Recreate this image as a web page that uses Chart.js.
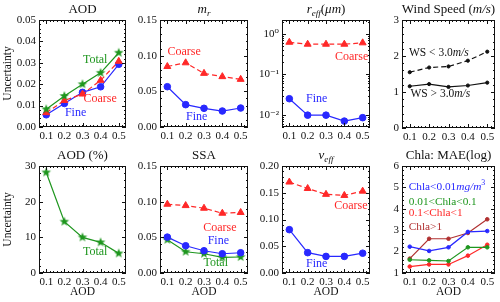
<!DOCTYPE html>
<html lang="en">
<head>
<meta charset="UTF-8">
<title>Uncertainty vs AOD</title>
<script src="https://cdn.jsdelivr.net/npm/chart.js"></script>
<style>
  html, body { margin: 0; padding: 0; background: #fff; }
  #wrap { position: relative; width: 500px; height: 302px; }
  #wrap canvas { position: absolute; left: 0; top: 0; }
</style>
</head>
<body>
<div id="wrap"></div>
<script>
// AOD bins (x axis of every panel)
const aodBins = [0.1, 0.2, 0.3, 0.4, 0.5];

// AOD uncertainty
const aodTotal  = [0.0083, 0.0145, 0.0200, 0.0253, 0.0347];
const aodCoarse = [0.0067, 0.0124, 0.0154, 0.0218, 0.0307];
const aodFine   = [0.0057, 0.0110, 0.0162, 0.0188, 0.0293];

// m_r
const mrCoarse = [0.0848, 0.0900, 0.0752, 0.0706, 0.0668];
const mrFine   = [0.0565, 0.0313, 0.0262, 0.0224, 0.0266];

// r_eff (log axis)
const reffCoarse = [0.62, 0.555, 0.555, 0.555, 0.60];
const reffFine   = [0.025, 0.0098, 0.0098, 0.0070, 0.0085];

// wind speed
const wsLow  = [1.55, 1.68, 1.71, 1.87, 2.12];
const wsHigh = [1.16, 1.22, 1.14, 1.18, 1.26];

// AOD (%)
const aodPctTotal = [28.2, 14.4, 10.0, 8.6, 5.5];

// SSA
const ssaCoarse = [0.0964, 0.0945, 0.0908, 0.0838, 0.0848];
const ssaFine   = [0.0503, 0.0382, 0.0312, 0.0270, 0.0284];
const ssaTotal  = [0.0466, 0.0298, 0.0270, 0.0219, 0.0224];

// v_eff
const veffCoarse = [0.170, 0.158, 0.147, 0.145, 0.153];
const veffFine   = [0.081, 0.038, 0.031, 0.031, 0.037];

// Chla: MAE(log)
const chlaLow   = [2.23, 2.03, 2.20, 2.92, 2.96];
const chlaMid   = [1.62, 1.59, 1.56, 2.20, 2.20];
const chlaHigh  = [1.30, 1.40, 1.40, 1.81, 2.32];
const chlaVHigh = [1.67, 2.60, 2.60, 2.87, 3.51];

// tick values
const xTicks     = [0.1, 0.2, 0.3, 0.4, 0.5];
const aodYTicks  = [0, 0.01, 0.02, 0.03, 0.04, 0.05];
const mrYTicks   = [0, 0.05, 0.10, 0.15];
const reffYTicks = [0.01, 0.1, 1];
const reffLabels = ['10\u207B\u00B2', '10\u207B\u00B9', '10\u2070'];
const wsYTicks   = [0, 1, 2, 3];
const pctYTicks  = [0, 10, 20, 30];
const veffYTicks = [0, 0.05, 0.10, 0.15, 0.20];
const chlaYTicks = [1, 2, 3, 4, 5, 6];

const BLUE = '#2828ff', RED = '#ff2828', GREEN = '#1e961e', DARKRED = '#b03030', INK = '#111';
const SERIF = "'Liberation Serif', 'DejaVu Serif', serif";

// filled five point star used as marker
function starImg(color, r) {
  const c = document.createElement('canvas');
  const s = Math.ceil(r * 2 + 2);
  c.width = c.height = s;
  const g = c.getContext('2d');
  g.beginPath();
  for (let i = 0; i < 10; i++) {
    const rad = i % 2 ? r * 0.42 : r;
    const a = -Math.PI / 2 + i * Math.PI / 5;
    g.lineTo(s / 2 + rad * Math.cos(a), s / 2 + rad * Math.sin(a));
  }
  g.closePath();
  g.fillStyle = color;
  g.fill();
  return c;
}

function series(values, color, marker, dashed, size) {
  return {
    data: values.map((v, i) => ({ x: aodBins[i], y: v })),
    borderColor: color,
    backgroundColor: color,
    borderWidth: 1.2,
    borderDash: dashed ? [5, 3] : [],
    pointStyle: marker,
    pointRadius: size,
    pointBorderWidth: 1,
    pointBorderColor: color,
    pointBackgroundColor: color,
    tension: 0
  };
}

// text with italic / sub / sup pieces
function fontFor(st, size) {
  const small = st === 'is' || st === 'ip' || st === 'p';
  const it = st === 'i' || st === 'is' || st === 'ip';
  return (it ? 'italic ' : '') + (small ? size * 0.7 : size) + 'px ' + SERIF;
}
function drawRich(ctx, segs, x, y, align, size, color) {
  let w = 0;
  segs.forEach(([t, st]) => { ctx.font = fontFor(st, size); w += ctx.measureText(t).width; });
  let cx = align === 'left' ? x : x - w / 2;
  ctx.fillStyle = color;
  ctx.textBaseline = 'middle';
  ctx.textAlign = 'left';
  segs.forEach(([t, st]) => {
    ctx.font = fontFor(st, size);
    let dy = 0;
    if (st === 'is') dy = size * 0.3;
    if (st === 'ip' || st === 'p') dy = -size * 0.35;
    ctx.fillText(t, cx, y + dy);
    cx += ctx.measureText(t).width;
  });
}

function minorVals(scale, major, log, n) {
  const out = [];
  if (log) {
    for (let k = -3; k <= 1; k++) for (let m = 2; m <= 9; m++) out.push(m * Math.pow(10, k));
  } else {
    const step = (major[1] - major[0]) / n;
    for (let v = major[0] - 20 * step; v <= scale.max + 1e-9; v += step) out.push(v);
  }
  return out.filter(v => v >= scale.min && v <= scale.max);
}

const framePlugin = {
  id: 'frame',
  afterDraw(chart, args, o) {
    const { ctx, chartArea: a, scales: { x, y } } = chart;
    ctx.save();
    ctx.strokeStyle = INK;
    ctx.lineWidth = 1;
    ctx.strokeRect(a.left + 0.5, a.top + 0.5, a.right - a.left - 1, a.bottom - a.top - 1);
    const tick = (vals, len, horiz) => {
      ctx.beginPath();
      vals.forEach(v => {
        if (horiz) {
          const px = Math.round(x.getPixelForValue(v)) + 0.5;
          ctx.moveTo(px, a.bottom); ctx.lineTo(px, a.bottom - len);
          ctx.moveTo(px, a.top); ctx.lineTo(px, a.top + len);
        } else {
          const py = Math.round(y.getPixelForValue(v)) + 0.5;
          ctx.moveTo(a.left, py); ctx.lineTo(a.left + len, py);
          ctx.moveTo(a.right, py); ctx.lineTo(a.right - len, py);
        }
      });
      ctx.stroke();
    };
    tick(xTicks, 4, true);
    tick(minorVals(x, xTicks, false, 5), 2, true);
    tick(o.yTicks, 4, false);
    tick(minorVals(y, o.yTicks, o.log, 5), 2, false);

    drawRich(ctx, o.title, (a.left + a.right) / 2, a.top - 10, 'center', 13, INK);
    (o.notes || []).forEach(n => {
      drawRich(ctx, n.segs, x.getPixelForValue(n.x), y.getPixelForValue(n.y), n.align || 'center', n.size || 12, n.color);
    });
    ctx.restore();
  }
};

function panel(p) {
  const cv = document.createElement('canvas');
  cv.width = 500; cv.height = 302;
  document.getElementById('wrap').appendChild(cv);
  const [L, T, R, B] = p.box;
  const yW = p.yTitle ? L : 40;
  const xH = p.xTitle ? 26 : 20;
  const tickFont = { family: SERIF, size: 11 };
  new Chart(cv, {
    type: 'line',
    data: { datasets: p.datasets },
    plugins: [framePlugin],
    options: {
      responsive: false,
      animation: false,
      layout: { padding: { left: L - yW, top: T, right: 500 - R, bottom: 302 - B - xH } },
      plugins: {
        legend: { display: false },
        tooltip: { enabled: false },
        frame: { title: p.title, notes: p.notes, yTicks: p.yTicks, log: p.log }
      },
      scales: {
        x: {
          type: 'linear', min: 0.06, max: 0.54,
          afterFit: s => { s.height = xH; },
          afterBuildTicks: s => { s.ticks = xTicks.map(v => ({ value: v })); },
          grid: { display: false, drawTicks: false },
          border: { display: false },
          ticks: { color: INK, font: tickFont, padding: 3, maxRotation: 0, callback: v => v.toFixed(1) },
          title: { display: !!p.xTitle, text: 'AOD', color: INK, font: { family: SERIF, size: 11.5 }, padding: 0 }
        },
        y: {
          type: p.log ? 'logarithmic' : 'linear', min: p.yMin, max: p.yMax,
          afterFit: s => { s.width = yW; },
          afterBuildTicks: s => { s.ticks = p.yTicks.map(v => ({ value: v })); },
          grid: { display: false, drawTicks: false },
          border: { display: false },
          ticks: { color: INK, font: tickFont, padding: 3, callback: (v, i) => p.yLabels ? p.yLabels[i] : v.toFixed(p.dec) },
          title: { display: !!p.yTitle, text: 'Uncertainty', color: INK, font: { family: SERIF, size: 11.5 }, padding: { top: 1, bottom: 0 } }
        }
      }
    }
  });
}

const starG = starImg(GREEN, 5);

panel({
  box: [39, 20, 126, 127], yMin: 0, yMax: 0.05, yTicks: aodYTicks, dec: 2, yTitle: true,
  title: [['AOD', 'n']],
  datasets: [
    series(aodTotal, GREEN, starG, false, 4),
    series(aodCoarse, RED, 'triangle', true, 4),
    series(aodFine, BLUE, 'circle', false, 3.3)
  ],
  notes: [
    { segs: [['Total', 'n']], x: 0.37, y: 0.0313, color: GREEN },
    { segs: [['Coarse', 'n']], x: 0.397, y: 0.0132, color: RED },
    { segs: [['Fine', 'n']], x: 0.262, y: 0.0064, color: BLUE }
  ]
});

panel({
  box: [160, 20, 248, 127], yMin: 0, yMax: 0.15, yTicks: mrYTicks, dec: 2,
  title: [['m', 'i'], ['r', 'is']],
  datasets: [
    series(mrCoarse, RED, 'triangle', true, 4),
    series(mrFine, BLUE, 'circle', false, 3.3)
  ],
  notes: [
    { segs: [['Coarse', 'n']], x: 0.192, y: 0.1047, color: RED },
    { segs: [['Fine', 'n']], x: 0.26, y: 0.0144, color: BLUE }
  ]
});

panel({
  box: [282, 20, 370, 127], yMin: 0.005, yMax: 2.2, log: true, yTicks: reffYTicks, yLabels: reffLabels,
  title: [['r', 'i'], ['eff', 'is'], ['(', 'n'], ['\u03BCm', 'i'], [')', 'n']],
  datasets: [
    series(reffCoarse, RED, 'triangle', true, 4),
    series(reffFine, BLUE, 'circle', false, 3.3)
  ],
  notes: [
    { segs: [['Coarse', 'n']], x: 0.44, y: 0.269, color: RED },
    { segs: [['Fine', 'n']], x: 0.249, y: 0.0248, color: BLUE }
  ]
});

panel({
  box: [402, 20, 496, 128], yMin: 0, yMax: 3, yTicks: wsYTicks, dec: 0,
  title: [['Wind Speed (', 'n'], ['m/s', 'i'], [')', 'n']],
  datasets: [
    series(wsLow, INK, 'circle', true, 1.6),
    series(wsHigh, INK, 'circle', false, 1.6)
  ],
  notes: [
    { segs: [['WS < 3.0', 'n'], ['m/s', 'i']], x: 0.25, y: 2.07, color: INK, size: 11.5 },
    { segs: [['WS > 3.0', 'n'], ['m/s', 'i']], x: 0.258, y: 0.94, color: INK, size: 11.5 }
  ]
});

panel({
  box: [39, 166, 126, 273], yMin: 0, yMax: 30, yTicks: pctYTicks, dec: 0, yTitle: true, xTitle: true,
  title: [['AOD (%)', 'n']],
  datasets: [series(aodPctTotal, GREEN, starG, false, 4)],
  notes: [{ segs: [['Total', 'n']], x: 0.37, y: 5.97, color: GREEN }]
});

panel({
  box: [160, 166, 248, 273], yMin: 0, yMax: 0.15, yTicks: mrYTicks, dec: 2, xTitle: true,
  title: [['SSA', 'n']],
  datasets: [
    series(ssaCoarse, RED, 'triangle', true, 4),
    series(ssaFine, BLUE, 'circle', false, 3.3),
    series(ssaTotal, GREEN, starG, false, 4)
  ],
  notes: [
    { segs: [['Coarse', 'n']], x: 0.387, y: 0.064, color: RED },
    { segs: [['Fine', 'n']], x: 0.378, y: 0.0453, color: BLUE },
    { segs: [['Total', 'n']], x: 0.364, y: 0.0136, color: GREEN }
  ]
});

panel({
  box: [282, 166, 370, 273], yMin: 0, yMax: 0.2, yTicks: veffYTicks, dec: 2, xTitle: true,
  title: [['v', 'i'], ['eff', 'is']],
  datasets: [
    series(veffCoarse, RED, 'triangle', true, 4),
    series(veffFine, BLUE, 'circle', false, 3.3)
  ],
  notes: [
    { segs: [['Coarse', 'n']], x: 0.436, y: 0.125, color: RED },
    { segs: [['Fine', 'n']], x: 0.249, y: 0.018, color: BLUE }
  ]
});

panel({
  box: [402, 166, 496, 273], yMin: 1, yMax: 6, yTicks: chlaYTicks, dec: 0, xTitle: true,
  title: [['Chla: MAE(log)', 'n']],
  datasets: [
    series(chlaLow, BLUE, 'circle', false, 1.8),
    series(chlaMid, GREEN, 'circle', false, 1.8),
    series(chlaHigh, RED, 'circle', false, 1.8),
    series(chlaVHigh, DARKRED, 'circle', false, 1.8)
  ],
  notes: [
    { segs: [['Chla<0.01', 'n'], ['mg/m', 'i'], ['3', 'p']], x: 0.095, y: 5.03, color: BLUE, align: 'left', size: 11.3 },
    { segs: [['0.01<Chla<0.1', 'n']], x: 0.095, y: 4.33, color: GREEN, align: 'left', size: 11.3 },
    { segs: [['0.1<Chla<1', 'n']], x: 0.095, y: 3.79, color: RED, align: 'left', size: 11.3 },
    { segs: [['Chla>1', 'n']], x: 0.095, y: 3.14, color: DARKRED, align: 'left', size: 11.3 }
  ]
});
</script>
</body>
</html>
